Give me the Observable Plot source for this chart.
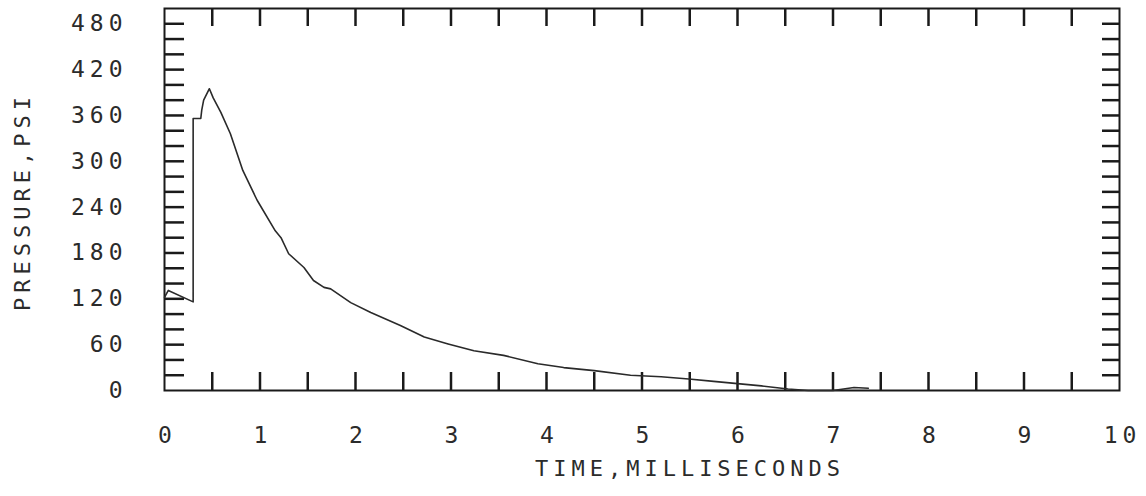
<!DOCTYPE html>
<html>
<head>
<meta charset="utf-8">
<script src="https://cdn.jsdelivr.net/npm/d3@7"></script>
<script src="https://cdn.jsdelivr.net/npm/@observablehq/plot@0.6"></script>
<style>
  html, body { margin: 0; padding: 0; background: #fff; }
  svg text { letter-spacing: 5px; }
</style>
</head>
<body>
<div id="chart"></div>
<script>
// Data
const timeMs = [0, 0.04, 0.30, 0.30, 0.38, 0.39, 0.41, 0.47, 0.51, 0.59, 0.69, 0.82, 0.97, 1.16, 1.22, 1.30, 1.46, 1.56, 1.67, 1.74, 1.95, 2.16, 2.47, 2.72, 2.97, 3.24, 3.55, 3.91, 4.18, 4.50, 4.88, 5.20, 5.49, 5.75, 6.00, 6.25, 6.53, 6.74, 7.00, 7.22, 7.37];
const pressurePsi = [122, 131, 116, 356, 356, 367, 380, 395, 383, 364, 336, 288, 249, 209, 200, 179, 161, 144, 135, 133, 115, 102, 85, 70, 61, 52, 46, 35, 30, 26, 20, 18, 15, 12, 9, 6, 2, 0, 0, 4, 3];

const xLabelTicks = [0, 1, 2, 3, 4, 5, 6, 7, 8, 9, 10];
const xMinorTicks = [0.5, 1, 1.5, 2, 2.5, 3, 3.5, 4, 4.5, 5, 5.5, 6, 6.5, 7, 7.5, 8, 8.5, 9, 9.5];
const yLabelTicks = [0, 60, 120, 180, 240, 300, 360, 420, 480];
const yMinorTicks = [20, 40, 60, 80, 100, 120, 140, 160, 180, 200, 220, 240, 260, 280, 300, 320, 340, 360, 380, 400, 420, 440, 460, 480];
const xTitle = "TIME,MILLISECONDS";
const yTitle = "PRESSURE,PSI";

const data = timeMs.map((t, i) => ({t, p: pressurePsi[i]}));

const font = "DejaVu Sans Mono";
const ink = "#1a1a1a";
const textInk = "#2b2b2b";

const chart = Plot.plot({
  width: 1146,
  height: 496,
  marginLeft: 164,
  marginRight: 27,
  marginTop: 8,
  marginBottom: 106,
  style: {fontFamily: font, fontSize: "23px", color: ink, background: "#fff"},
  x: {domain: [0, 10]},
  y: {domain: [0, 500]},
  marks: [
    Plot.frame({stroke: ink, strokeWidth: 2}),
    // inward ticks
    Plot.axisY({ticks: yMinorTicks, anchor: "left", tickSize: -20, text: null, label: null, strokeWidth: 2.5, stroke: ink}),
    Plot.axisY({ticks: yMinorTicks, anchor: "right", tickSize: -18, text: null, label: null, strokeWidth: 2.5, stroke: ink}),
    Plot.axisX({ticks: xMinorTicks, anchor: "bottom", tickSize: -18, text: null, label: null, strokeWidth: 2.5, stroke: ink}),
    Plot.axisX({ticks: xMinorTicks, anchor: "top", tickSize: -17, text: null, label: null, strokeWidth: 2.5, stroke: ink}),
    // labels
    Plot.axisY({ticks: yLabelTicks, anchor: "left", tickSize: 0, tickPadding: 37, label: null, fill: textInk, fontSize: 23}),
    Plot.axisX({ticks: xLabelTicks, anchor: "bottom", tickSize: 0, tickPadding: 36, label: null, fill: textInk, fontSize: 23, dx: 3}),
    Plot.text([xTitle], {frameAnchor: "bottom", dy: 85, dx: 48, fill: textInk, fontSize: 22}),
    Plot.text([yTitle], {frameAnchor: "left", textAnchor: "middle", rotate: -90, dx: -142, dy: 2, fill: textInk, fontSize: 22}),
    Plot.line(data, {x: "t", y: "p", stroke: "#2a2a2a", strokeWidth: 1.6})
  ]
});
document.getElementById("chart").appendChild(chart);
</script>
</body>
</html>
